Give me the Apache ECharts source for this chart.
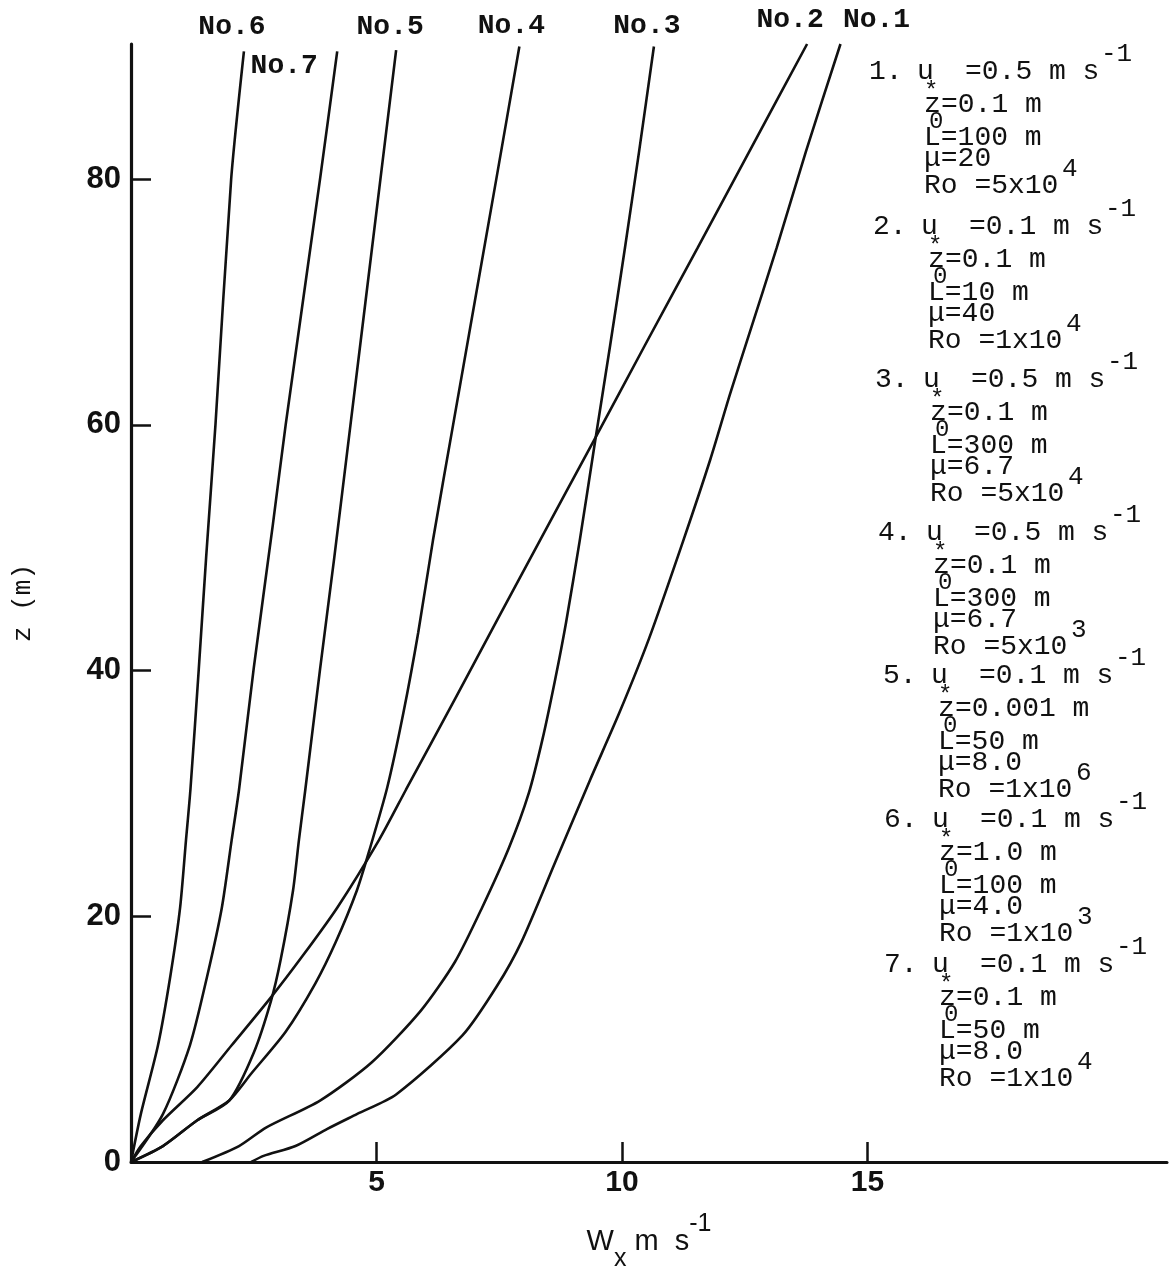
<!DOCTYPE html>
<html>
<head>
<meta charset="utf-8">
<style>
  html,body{margin:0;padding:0;background:#ffffff}
  #chart{width:1171px;height:1277px}
</style>
</head>
<body>
<div id="chart"></div>
<script src="https://cdn.jsdelivr.net/npm/echarts@6/dist/echarts.min.js"></script>
<script>
// wind profiles W_x (m/s) against height z (m)
const curveNames = ['No.1', 'No.2', 'No.3', 'No.4', 'No.5', 'No.6', 'No.7'];

const wx1 = [2.45, 2.7, 3.35, 4.0, 4.6, 5.4, 6.75, 7.45, 7.95, 8.65, 9.35, 9.95, 10.55, 11.25, 11.8, 12.2, 12.6, 13.15, 13.75, 14.45];
const z1  = [0, 0.5, 1.3, 2.7, 3.9, 5.5, 10.3, 14.3, 17.9, 24.5, 31.1, 36.6, 42.6, 50.6, 57.2, 62.5, 67.5, 74.4, 82.3, 91];

const wx2 = [0, 0.2, 0.65, 1.35, 2.05, 2.85, 3.5, 4.2, 5.05, 5.6, 6.6, 7.47, 8.33, 9.41, 10.47, 11.54, 12.6, 13.77];
const z2  = [0, 1.3, 3.4, 6.1, 9.5, 13.4, 16.8, 20.7, 26.2, 30.3, 37.7, 44.2, 50.6, 58.6, 66.5, 74.4, 82.3, 91];

const wx3 = [1.45, 2.2, 2.75, 3.85, 4.9, 5.9, 6.6, 7.15, 7.7, 8.1, 8.38, 8.64, 8.86, 9.14, 9.45, 9.76, 10.06, 10.35, 10.65];
const z3  = [0, 1.3, 2.8, 5.0, 8.1, 12.3, 16.3, 20.7, 25.6, 30.0, 34.4, 39.3, 43.9, 50.6, 58.6, 66.5, 74.4, 82.3, 90.8];

const wx4 = [0, 0.65, 1.35, 2.0, 2.45, 3.15, 3.75, 4.17, 4.6, 4.85, 5.22, 5.55, 5.85, 6.15, 6.56, 7.44, 7.91];
const z4  = [0, 1.3, 3.4, 5.0, 7.2, 10.6, 14.5, 17.9, 22.1, 25.3, 30.5, 36.6, 43.1, 50.6, 60, 80, 90.8];

const wx5 = [0, 0.65, 1.35, 2.0, 2.5, 2.85, 3.05, 3.3, 3.42, 3.55, 3.85, 4.14, 4.47, 5.08, 5.4];
const z5  = [0, 1.3, 3.4, 5.0, 8.9, 13.1, 16.5, 22.1, 26.2, 30.3, 40.1, 49.2, 60, 80, 90.5];

const wx6 = [0, 0.2, 0.55, 0.8, 1.0, 1.12, 1.21, 1.38, 1.53, 1.72, 2.04, 2.3];
const z6  = [0, 3.9, 9.5, 15.1, 20.7, 26.2, 30.3, 40.1, 49.2, 60, 80, 90.4];

const wx7 = [0, 0.65, 1.2, 1.55, 1.85, 2.05, 2.2, 2.5, 2.89, 3.15, 3.85, 4.2];
const z7  = [0, 3.9, 9.5, 15.1, 20.7, 26.2, 30.3, 40.2, 51.9, 60, 80, 90.4];

// axis ticks / labels
const xTicks = [5, 10, 15];
const yTicks = [20, 40, 60, 80];
const yLabels = [0, 20, 40, 60, 80];

// run parameters listed on the right
const ustar   = ['0.5', '0.1', '0.5', '0.5', '0.1', '0.1', '0.1'];
const rough   = ['0.1', '0.1', '0.1', '0.1', '0.001', '1.0', '0.1'];
const obukhov = ['100', '10', '300', '300', '50', '100', '50'];
const mu      = ['20', '40', '6.7', '6.7', '8.0', '4.0', '8.0'];
const roMant  = ['5', '1', '5', '5', '1', '1', '1'];
const roExp   = ['4', '4', '4', '3', '6', '3', '4'];

// ---- layout / style ----
const MONO = '"Liberation Mono", "Courier New", "DejaVu Sans Mono", monospace';
const SANS = '"Liberation Sans", Arial, "DejaVu Sans", sans-serif';
const INK = '#111111';
// label offsets for the "No.x" tags, relative to each curve's top end
const tagOffset = [[36, -5], [-17, -5], [-7, -2], [-8, -2], [-6, -4], [-12, -5], [-53, 34]];
// top-left anchor of each parameter block
const blockX = [869, 873, 875, 878, 883, 884, 884];
const blockY = [72, 227, 380, 533, 676, 820, 965];

const xs = [wx1, wx2, wx3, wx4, wx5, wx6, wx7];
const zs = [z1, z2, z3, z4, z5, z6, z7];

const series = curveNames.map(function (name, i) {
  const wx = xs[i], z = zs[i];
  const data = wx.map(function (w, k) {
    if (k < wx.length - 1) return [w, z[k]];
    return {
      value: [w, z[k]],
      label: { show: true, formatter: name, position: 'top', offset: tagOffset[i],
        fontFamily: MONO, fontSize: 28, fontWeight: 'bold', color: INK }
    };
  });
  return {
    name: name, type: 'line', data: data,
    smooth: 0.25,
    symbol: 'circle', symbolSize: 0,
    lineStyle: { color: INK, width: 2.6 },
    label: { show: false },
    emphasis: { disabled: true },
    z: 3
  };
});

function txt(x, y, s, size) {
  return {
    type: 'text', x: x, y: y, silent: true,
    style: { text: s, font: size + 'px ' + MONO, fill: INK,
      textAlign: 'left', textVerticalAlign: 'middle', align: 'left', verticalAlign: 'middle' }
  };
}

const graphics = [];
for (let i = 0; i < ustar.length; i++) {
  const bx = blockX[i], by = blockY[i];
  graphics.push(
    txt(bx, by, (i + 1) + '.', 28),
    txt(bx + 48, by, 'u', 28),
    txt(bx + 55, by + 20, '*', 24),
    txt(bx + 96, by, '=' + ustar[i] + ' m s', 28),
    txt(bx + 232, by - 18, '-1', 26),
    txt(bx + 55, by + 33, 'z', 28),
    txt(bx + 60, by + 50, '0', 24),
    txt(bx + 72, by + 33, '=' + rough[i] + ' m', 28),
    txt(bx + 55, by + 66, 'L=' + obukhov[i] + ' m', 28),
    txt(bx + 55, by + 87, '\u03bc=' + mu[i], 28),
    txt(bx + 55, by + 114, 'Ro =' + roMant[i] + 'x10', 28),
    txt(bx + 193, by + 97, roExp[i], 26)
  );
}

const chart = echarts.init(document.getElementById('chart'));
chart.setOption({
  animation: false,
  backgroundColor: '#ffffff',
  grid: { left: 131, right: 4, top: 44, bottom: 114 },
  xAxis: {
    type: 'value', min: 0, max: 21.1,
    name: '{a|W}{sub|x}{a| m  s}{sup|-1}',
    nameLocation: 'middle', nameGap: 50,
    nameTextStyle: {
      rich: {
        a: { fontFamily: SANS, fontSize: 29, color: INK, verticalAlign: 'middle', lineHeight: 60 },
        sub: { fontFamily: SANS, fontSize: 25, color: INK, verticalAlign: 'bottom', lineHeight: 60 },
        sup: { fontFamily: SANS, fontSize: 25, color: INK, verticalAlign: 'top', lineHeight: 60 }
      }
    },
    axisLine: { show: true, onZero: false, lineStyle: { color: INK, width: 3 } },
    axisTick: { show: true, inside: true, length: 20, customValues: xTicks, lineStyle: { color: INK, width: 2.5 } },
    axisLabel: { customValues: xTicks, margin: 6, fontFamily: SANS, fontSize: 30, fontWeight: 'bold', color: INK },
    splitLine: { show: false }
  },
  yAxis: {
    type: 'value', min: 0, max: 91,
    name: 'z (m)', nameLocation: 'middle', nameRotate: 90, nameGap: 95,
    nameTextStyle: { fontFamily: MONO, fontSize: 26, color: INK },
    axisLine: { show: true, onZero: false, lineStyle: { color: INK, width: 3.2 } },
    axisTick: { show: true, inside: true, length: 20, customValues: yTicks, lineStyle: { color: INK, width: 2.5 } },
    axisLabel: { customValues: yLabels, margin: 10, fontFamily: SANS, fontSize: 31, fontWeight: 'bold', color: INK },
    splitLine: { show: false }
  },
  graphic: graphics,
  series: series
});
</script>
</body>
</html>
